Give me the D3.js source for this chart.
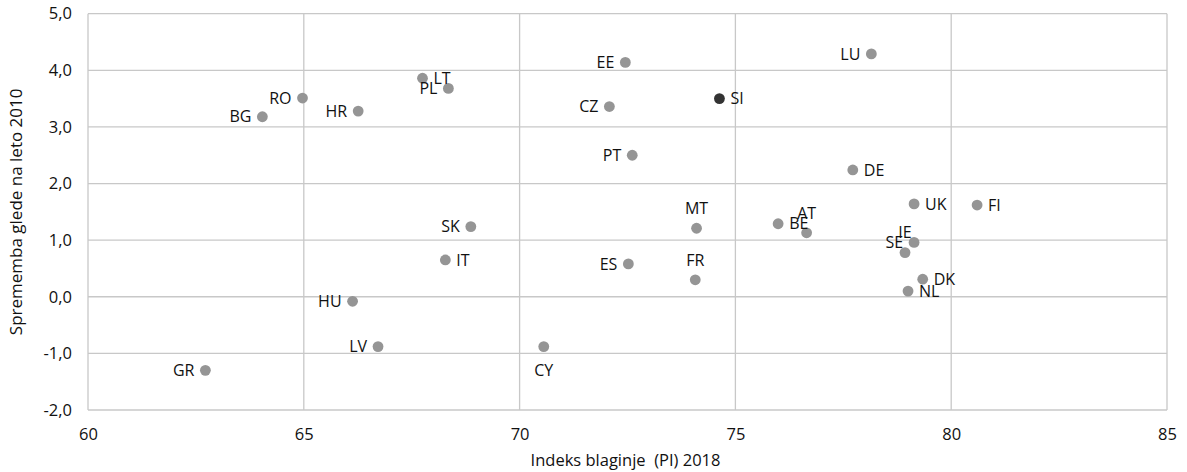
<!DOCTYPE html>
<html>
<head>
<meta charset="utf-8">
<script src="https://cdn.jsdelivr.net/npm/d3@7"></script>
<style>
  html, body { margin: 0; padding: 0; background: #fff; }
  svg { display: block; }
  text { font-family: "Open Sans", "Noto Sans", sans-serif; fill: #111; }
</style>
</head>
<body>
<svg id="chart" width="1187" height="472"></svg>
<script>
// ---- data ----
const countries = ["BG","RO","HR","LT","PL","EE","CZ","SI","PT","LU","DE","UK","FI","SK","IT","ES","MT","FR","BE","AT","SE","IE","DK","NL","HU","LV","CY","GR"];
const prosperity2018 = [64.04,64.97,66.26,67.75,68.35,72.45,72.08,74.63,72.61,78.15,77.72,79.14,80.60,68.87,68.28,72.52,74.10,74.07,75.99,76.65,79.14,78.93,79.34,79.00,66.13,66.72,70.56,62.72];
const changeSince2010 = [3.18,3.51,3.28,3.86,3.68,4.14,3.36,3.50,2.50,4.29,2.24,1.64,1.62,1.24,0.65,0.58,1.21,0.30,1.29,1.13,0.96,0.78,0.31,0.10,-0.08,-0.88,-0.88,-1.30];
const xTicks = [60,65,70,75,80,85];
const yTicks = [-2,-1,0,1,2,3,4,5];
const xTitle = "Indeks blaginje\u00a0 (PI) 2018";
const yTitle = "Sprememba glede na leto 2010";
const highlight = "SI";

// label placement (presentation, not data)
const labelSide = {
  BG:"left", RO:"left", HR:"left", LT:"right", PL:"left", EE:"left", CZ:"left",
  SI:"right", PT:"left", LU:"left", DE:"right", UK:"right", FI:"right", SK:"left",
  IT:"right", ES:"left", MT:"above", FR:"above", BE:"right", AT:"above", SE:"left",
  IE:"above", DK:"right", NL:"right", HU:"left", LV:"left", CY:"below", GR:"left"
};

const points = countries.map((c, i) => ({ name: c, x: prosperity2018[i], y: changeSince2010[i] }));

// ---- layout ----
const svg = d3.select("#chart");
const m = { left: 88, right: 1167, top: 13.7, bottom: 410 };
const x = d3.scaleLinear().domain([60, 85]).range([m.left, m.right]);
const y = d3.scaleLinear().domain([-2, 5]).range([m.bottom, m.top]);
const gridColor = "#c8c8c8";

// grid
svg.append("g").selectAll("line").data(xTicks).join("line")
  .attr("x1", d => x(d)).attr("x2", d => x(d))
  .attr("y1", m.top).attr("y2", m.bottom)
  .attr("stroke", gridColor).attr("stroke-width", 1.3);
svg.append("g").selectAll("line").data(yTicks).join("line")
  .attr("x1", m.left).attr("x2", m.right)
  .attr("y1", d => y(d)).attr("y2", d => y(d))
  .attr("stroke", gridColor).attr("stroke-width", 1.3);

// axes (labels only, via d3 axis)
const fmt = d => d3.format(".1f")(d).replace(".", ",").replace("\u2212", "-");
const yAxis = svg.append("g").attr("transform", `translate(${m.left},0)`)
  .call(d3.axisLeft(y).tickValues(yTicks).tickFormat(fmt).tickSize(0).tickPadding(16));
yAxis.select(".domain").remove();
yAxis.selectAll("text").attr("font-size", 16.5).attr("font-family", "Open Sans").attr("fill", "#111");

const xAxis = svg.append("g").attr("transform", `translate(0,${m.bottom})`)
  .call(d3.axisBottom(x).tickValues(xTicks).tickFormat(d3.format("d")).tickSize(0).tickPadding(18));
xAxis.select(".domain").remove();
xAxis.selectAll("text").attr("font-size", 16.5).attr("font-family", "Open Sans").attr("fill", "#111");

// titles
svg.append("text")
  .attr("x", (m.left + m.right) / 2 - 2).attr("y", 466)
  .attr("text-anchor", "middle").attr("font-size", 16.5)
  .text(xTitle);
svg.append("text")
  .attr("transform", `translate(22,${(m.top + m.bottom) / 2}) rotate(-90)`)
  .attr("text-anchor", "middle").attr("font-size", 17)
  .text(yTitle);

// points
svg.append("g").selectAll("circle").data(points).join("circle")
  .attr("cx", d => x(d.x)).attr("cy", d => y(d.y)).attr("r", 5.4)
  .attr("fill", d => d.name === highlight ? "#333333" : "#959595");

// labels
svg.append("g").selectAll("text").data(points).join("text")
  .attr("font-size", 16)
  .text(d => d.name)
  .each(function(d) {
    const s = labelSide[d.name];
    const t = d3.select(this);
    const px = x(d.x), py = y(d.y);
    if (s === "left") t.attr("x", px - 11).attr("y", py).attr("text-anchor", "end").attr("dy", "0.36em");
    else if (s === "right") t.attr("x", px + 11).attr("y", py).attr("text-anchor", "start").attr("dy", "0.36em");
    else if (s === "above") t.attr("x", px).attr("y", py - 20).attr("text-anchor", "middle").attr("dy", "0.36em");
    else t.attr("x", px).attr("y", py + 24).attr("text-anchor", "middle").attr("dy", "0.36em");
  });
</script>
</body>
</html>
